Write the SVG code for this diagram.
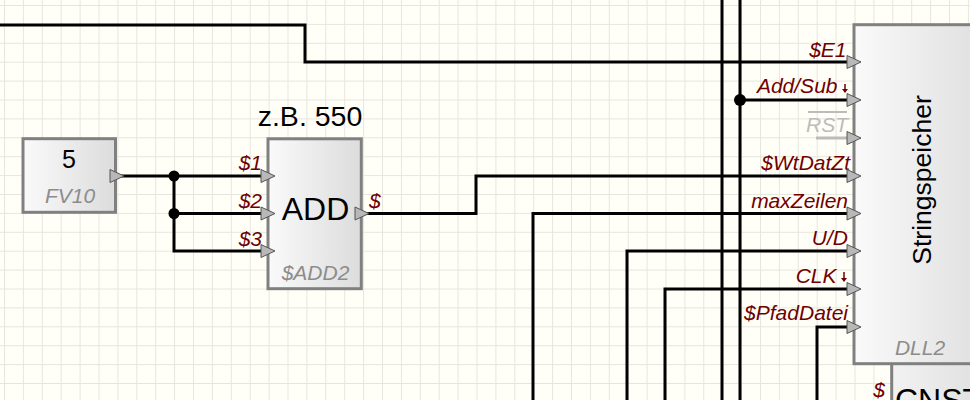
<svg xmlns="http://www.w3.org/2000/svg" width="970" height="400" viewBox="0 0 970 400">
<style>
.box{stroke:#808080;stroke-width:3}
.w{fill:none;stroke:#000;stroke-width:3}
.p{fill:#b8b8b8;stroke:#555;stroke-width:1}
.l{font:italic 21px "Liberation Sans",Arial,sans-serif;fill:#700000;text-anchor:end}
.n{font:italic 21px "Liberation Sans",Arial,sans-serif;fill:#8c8c8c;text-anchor:middle}
.t{font-family:"Liberation Sans",Arial,sans-serif;fill:#000;text-anchor:middle}
</style>
<defs>
<pattern id="g" x="4" y="5" width="18.9" height="18.9" patternUnits="userSpaceOnUse"><path d="M0.5 0V18.9M0 0.5H18.9" fill="none" stroke="#e6e6de" stroke-width="1"/></pattern>
<linearGradient id="f"><stop offset="0" stop-color="#fafafa"/><stop offset="1" stop-color="#dcdcdc"/></linearGradient>
<linearGradient id="f2" gradientUnits="userSpaceOnUse" x1="853" x2="1000" y1="0" y2="0"><stop offset="0" stop-color="#fafafa"/><stop offset="1" stop-color="#dcdcdc"/></linearGradient>
<polygon id="pin" class="p" points="0,-6.500 14,0 0,6.500"/>
</defs>
<rect width="970" height="400" fill="#fffff8"/>
<rect width="970" height="400" fill="url(#g)"/>
<g id="connectors">
<path class="w" d="M0 25H305V62H853"/>
<path class="w" d="M722 0V400M740 0V400"/>
<path class="w" d="M740 100H853"/>
<path class="w" d="M118 176H268M174 176V251H268M174 213.500H268"/>
<path class="w" d="M362 213.500H476V176H853"/>
<path class="w" d="M533 400V213.500H853"/>
<path class="w" d="M627 400V251H853"/>
<path class="w" d="M665 400V289H853"/>
<path class="w" d="M817 400V327H853"/>
<circle cx="174" cy="176" r="5.500"/><circle cx="174" cy="213.500" r="5.500"/><circle cx="740" cy="100" r="6"/>
</g>
<g id="FV10">
<rect class="box" x="23" y="138.700" width="92.500" height="73.600" fill="url(#f)"/>
<text class="t" x="69" y="168" font-size="25">5</text>
<text class="n" x="70" y="203">FV10</text>
<use href="#pin" x="110" y="176"/>
</g>
<g id="ADD2">
<rect class="box" x="268" y="138.800" width="93.300" height="149.900" fill="url(#f)"/>
<text class="t" x="310" y="126" font-size="28.500">z.B. 550</text>
<text class="t" x="315.500" y="220" font-size="32">ADD</text>
<text class="n" x="315.500" y="280">$ADD2</text>
<text class="l" x="262" y="170">$1</text><text class="l" x="262" y="208">$2</text><text class="l" x="262" y="246">$3</text><text class="l" style="text-anchor:start" x="369" y="208">$</text>
<use href="#pin" x="261" y="176"/><use href="#pin" x="261" y="213.500"/><use href="#pin" x="261" y="251"/><use href="#pin" x="355" y="213.500"/>
</g>
<g id="CNST">
<rect class="box" x="891.700" y="363" width="90" height="50" fill="url(#f2)"/>
<text class="t" style="text-anchor:start" x="895" y="411" font-size="32">CNST</text>
<text class="l" x="885" y="397">$</text>
</g>
<g id="DLL2">
<text class="l" x="846.500" y="57">$E1</text>
<text class="l" x="837.500" y="93">Add/Sub</text>
<path d="M845 84V92" stroke="#700000" stroke-width="1.500" fill="none"/><path d="M842 89H848L845 93Z" fill="#700000"/>
<text class="l" x="848" y="132" style="fill:#bcbcbc">RST</text>
<path d="M808 112H847" stroke="#bcbcbc" stroke-width="2" fill="none"/>
<path d="M816 138H853" stroke="#bcbcbc" stroke-width="3" fill="none"/>
<text class="l" x="850" y="170">$WtDatZt</text>
<text class="l" x="848" y="208">maxZeilen</text>
<text class="l" x="848" y="245">U/D</text>
<text class="l" x="836.500" y="282.500">CLK</text>
<path d="M844 272V281" stroke="#700000" stroke-width="1.500" fill="none"/><path d="M841 278H847L844 282Z" fill="#700000"/>
<text class="l" x="848" y="320">$PfadDatei</text>
<rect class="box" x="854" y="24.700" width="130" height="339" fill="url(#f2)"/>
<text class="t" font-size="26.500" transform="translate(930.500 180) rotate(-90)">Stringspeicher</text>
<text class="n" x="920" y="354.500">DLL2</text>
<use href="#pin" x="847" y="62"/><use href="#pin" x="847" y="100"/><use href="#pin" x="847" y="138"/><use href="#pin" x="847" y="176"/><use href="#pin" x="847" y="213.500"/><use href="#pin" x="847" y="251"/><use href="#pin" x="847" y="289"/><use href="#pin" x="847" y="327"/>
</g>
</svg>
